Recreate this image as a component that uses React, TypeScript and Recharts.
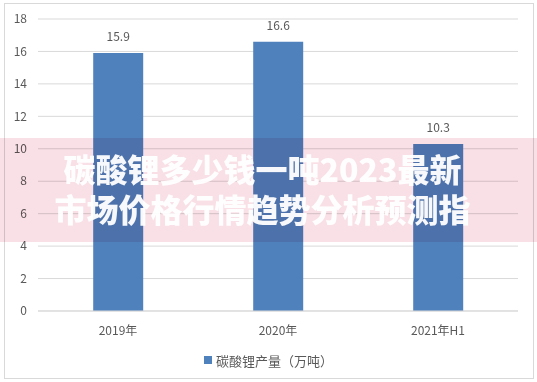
import React from 'react';
import { BarChart, Bar, XAxis, YAxis, CartesianGrid, LabelList } from 'recharts';

const categories = ['2019年', '2020年', '2021年H1'];
const output = [15.9, 16.6, 10.3];
const yTicks = [0, 2, 4, 6, 8, 10, 12, 14, 16, 18];
const seriesName = '碳酸锂产量（万吨）';
const watermarkLines = ['碳酸锂多少钱一吨2023最新', '市场价格行情趋势分析预测指'];

const data = categories.map((c, i) => ({ name: c, value: output[i] }));

const colors = {
    bar: '#4f81bd',
    grid: '#d9d9d9',
    text: '#595959',
    border: '#d9d9d9',
    band: '#f9e0e6',
};

const font = '"Noto Sans CJK SC", "Noto Sans", sans-serif';

export default function App() {
    return (
        <div style={{ position: 'absolute', left: 0, top: 0, width: 537, height: 382, background: '#fff', fontFamily: font }}>
            <div style={{ position: 'absolute', left: 4, top: 3, width: 528, height: 374, border: `1px solid ${colors.border}` }} />
            <BarChart
                width={537}
                height={382}
                data={data}
                margin={{ top: 19, right: 19, left: 0, bottom: 0 }}
                barCategoryGap="34.5%"
            >
                <CartesianGrid stroke={colors.grid} vertical={false} />
                <XAxis
                    dataKey="name"
                    tickLine={false}
                    axisLine={{ stroke: colors.grid }}
                    tick={{ fill: colors.text, fontSize: 12, fontFamily: font }}
                    tickMargin={9}
                    height={71}
                />
                <YAxis
                    width={38}
                    domain={[0, 18]}
                    ticks={yTicks}
                    interval={0}
                    tickLine={false}
                    axisLine={false}
                    tickSize={0}
                    tickMargin={11}
                    tick={{ fill: colors.text, fontSize: 12, fontFamily: font }}
                />
                <Bar dataKey="value" name={seriesName} fill={colors.bar} isAnimationActive={false}>
                    <LabelList dataKey="value" position="top" offset={12} fill={colors.text} fontSize={12} fontFamily={font} />
                </Bar>
            </BarChart>
            {/* legend */}
            <div
                style={{
                    position: 'absolute',
                    left: 0,
                    top: 350,
                    width: 537,
                    height: 20,
                    display: 'flex',
                    alignItems: 'center',
                    justifyContent: 'center',
                    fontSize: 13,
                    color: colors.text,
                }}
            >
                <span style={{ display: 'inline-block', width: 8, height: 8, background: colors.bar, marginRight: 4 }} />
                {seriesName}
            </div>
            <div
                style={{
                    position: 'absolute',
                    left: 0,
                    top: 138,
                    width: 537,
                    height: 104,
                    background: colors.band,
                    mixBlendMode: 'multiply',
                }}
            />
            <div
                style={{
                    position: 'absolute',
                    left: 0,
                    top: 136,
                    width: 525,
                    height: 104,
                    display: 'flex',
                    flexDirection: 'column',
                    alignItems: 'center',
                    justifyContent: 'center',
                    color: 'rgba(255,255,255,0.95)',
                    fontSize: 32,
                    fontWeight: 900,
                    lineHeight: '40px',
                    fontFamily: font,
                }}
            >
                {watermarkLines.map((t) => (
                    <div key={t}>{t}</div>
                ))}
            </div>
        </div>
    );
}
